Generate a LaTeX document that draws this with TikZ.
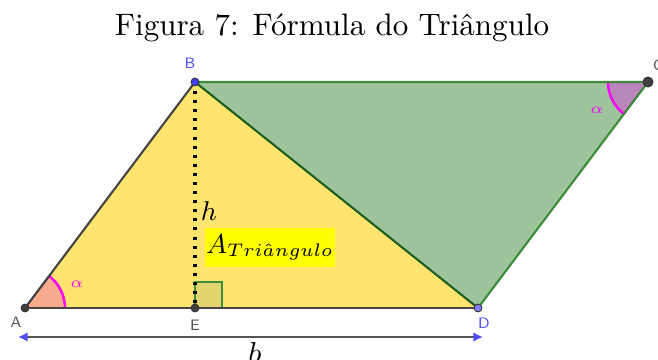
\documentclass[tikz,border=0pt]{standalone}
\usepackage{amsmath}
\usepackage{amssymb}
\usepackage{xcolor}
\usetikzlibrary{arrows.meta}
\definecolor{yfill}{RGB}{255,228,112}
\definecolor{gfill}{RGB}{157,196,155}
\definecolor{gedge}{RGB}{60,140,60}
\definecolor{gdark}{RGB}{30,95,30}
\definecolor{edgegray}{RGB}{68,68,68}
\definecolor{afill}{RGB}{248,170,140}
\definecolor{cfill}{RGB}{184,134,187}
\definecolor{magarc}{RGB}{255,0,255}
\definecolor{sqfill}{RGB}{226,212,110}
\definecolor{labgray}{RGB}{85,85,85}
\definecolor{labblue}{RGB}{77,77,255}
\definecolor{ptblue}{RGB}{64,64,255}
\definecolor{ptlight}{RGB}{128,128,255}
\definecolor{boxyellow}{RGB}{255,255,0}

\begin{document}
\begin{tikzpicture}[x=0.33pt, y=0.33pt,
	edge/.style={line width=0.7pt},
	anglearc/.style={magarc, line width=0.8pt},
	pt/.style={circle, draw=black!80, line width=0.3pt, inner sep=0pt, minimum size=2.6pt},
	vlabel/.style={font=\fontsize{5}{6}\selectfont\sffamily},
	alabel/.style={magarc, font=\fontsize{5}{6}\selectfont}]
					\useasboundingbox (0,0) rectangle (658,359);
					\coordinate (A) at (25,51);
					\coordinate (E) at (195,51);
					\coordinate (D) at (478,51);
					\coordinate (B) at (195,277);
					\coordinate (C) at (648,277);
					
					\fill[gfill] (B) -- (C) -- (D) -- cycle;
					\fill[yfill] (A) -- (B) -- (D) -- cycle;
					
					\filldraw[fill=afill, draw=black!70!magarc, line width=0.5pt] (A) -- ++(0:40) arc[start angle=0, end angle=53.04, radius=40] -- cycle;
					\draw[anglearc] (A) ++(0:40) arc[start angle=0, end angle=53.04, radius=40];
					\filldraw[fill=cfill, draw=black!70!magarc, line width=0.5pt] (C) -- ++(180:40) arc[start angle=180, end angle=233.04, radius=40] -- cycle;
					\draw[anglearc] (C) ++(180:40) arc[start angle=180, end angle=233.04, radius=40];
					
					\draw[fill=sqfill, draw=gedge, line width=0.7pt] (E) rectangle ++(27,26);
					
					\draw[edge, gedge] (B) -- (C) -- (D);
					\draw[edge, gdark] (B) -- (D);
					\draw[edge, edgegray] (A) -- (B);
					\draw[edge, edgegray] (A) -- (D);
					\draw[line width=1pt, dotted] (B) -- (E);
					
					\coordinate (bl) at (18,22);
					\coordinate (br) at (483,22);
					\draw[edge, labgray, {Latex[length=3.2pt, width=3.2pt, color=labblue]}-{Latex[length=3.2pt, width=3.2pt, color=labblue]}] (bl) -- (br);
					
					\node[pt, fill=black!75] (pA) at (A) {};
					\node[pt, fill=black!75] (pE) at (E) {};
					\node[pt, fill=ptblue] (pB) at (B) {};
					\node[pt, fill=ptlight] (pD) at (D) {};
					\node[pt, fill=black!75, minimum size=3.3pt] (pC) at (C) {};
					
					\node[vlabel, labblue] (lB) at (190,296) {B};
					\node[vlabel, labgray] (lA) at (16,37) {A};
					\node[vlabel, labgray] (lE) at (195,34) {E};
					\node[vlabel, labblue] (lD) at (484,36) {D};
					\node[vlabel, labgray] (lC) at (658,294) {C};
					\node[alabel] (aA) at (77,75) {$\alpha$};
					\node[alabel] (aC) at (597,249) {$\alpha$};
					
					\node[inner sep=0.5pt, font=\fontsize{9}{10}\selectfont] (lh) at (209,148) {$h$};
					\node[fill=boxyellow, minimum width=38pt, minimum height=13pt, inner sep=0.5pt, font=\fontsize{9}{10}\selectfont] (area) at (270,111.5) {$A_{Tri\hat{a}ngulo}$};
					\node (lb) at (255,6) {$b$};
					
					\node[font=\fontsize{10.25}{12}\selectfont] (title) at (332,331) {Figura 7: F\'ormula do Tri\^angulo};
				\end{tikzpicture}
\end{document}
